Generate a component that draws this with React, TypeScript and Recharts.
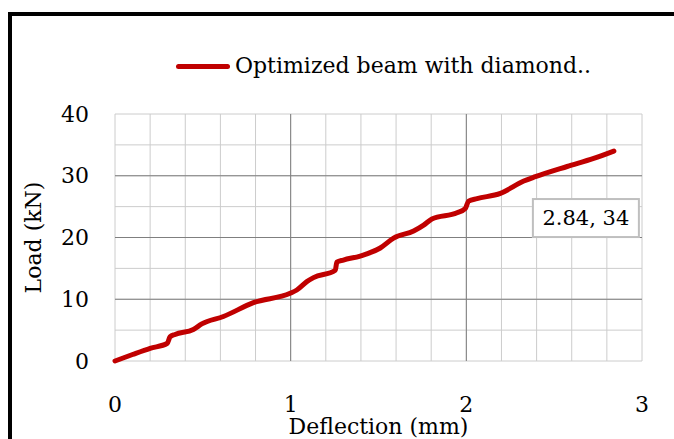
import {
  LineChart,
  Line,
  XAxis,
  YAxis,
  CartesianGrid,
  ReferenceLine,
  Legend,
  Label,
  LabelList,
} from "recharts";

// values
const deflection = [
  0, 0.1, 0.2, 0.298, 0.313, 0.342, 0.446, 0.494, 0.617, 0.788, 0.997, 1.035,
  1.092, 1.13, 1.254, 1.263, 1.3, 1.396, 1.51, 1.586, 1.7, 1.757, 1.804, 1.947,
  1.994, 2.013, 2.061, 2.194, 2.327, 2.393, 2.574, 2.725, 2.84,
];
const load = [
  0, 1.05, 2.05, 2.87, 3.9, 4.3, 5.1, 6.0, 7.2, 9.45, 10.96, 11.5, 12.85, 13.5,
  14.7, 16.0, 16.35, 17.0, 18.3, 19.9, 21.05, 22.0, 23.0, 24.0, 24.7, 25.9,
  26.3, 27.15, 29.15, 29.85, 31.5, 32.8, 34,
];
const xTicks = [0, 0.2, 0.4, 0.6, 0.8, 1, 1.2, 1.4, 1.6, 1.8, 2, 2.2, 2.4, 2.6, 2.8, 3];
const yTicks = [0, 5, 10, 15, 20, 25, 30, 35, 40];
const xMajor = [1, 2];
const yMajor = [10, 20, 30];
const seriesName = "Optimized beam with diamond..";

const data = deflection.map((d, i) => ({ deflection: d, load: load[i] }));

const FONT = "'DejaVu Serif', serif";
const RED = "#C00000";

const XTick = ({ x, y, payload }: any) =>
  Number.isInteger(payload.value) ? (
    <text x={x} y={y + 43} textAnchor="middle" dominantBaseline="central" fontFamily={FONT} fontSize={22} fill="#000">
      {payload.value}
    </text>
  ) : null;

const YTick = ({ x, y, payload }: any) =>
  payload.value % 10 === 0 ? (
    <text x={x - 26} y={y} textAnchor="end" dominantBaseline="central" fontFamily={FONT} fontSize={22} fill="#000">
      {payload.value}
    </text>
  ) : null;

const XTitle = ({ viewBox }: any) => (
  <text x={viewBox.x + viewBox.width / 2} y={viewBox.y + 65} textAnchor="middle" dominantBaseline="central" fontFamily={FONT} fontSize={22} fill="#000">
    Deflection (mm)
  </text>
);

const YTitle = ({ viewBox }: any) => {
  const cx = viewBox.x + 33;
  const cy = viewBox.y + viewBox.height / 2;
  return (
    <text x={cx} y={cy} transform={`rotate(-90 ${cx} ${cy})`} textAnchor="middle" dominantBaseline="central" fontFamily={FONT} fontSize={22} fill="#000">
      Load (kN)
    </text>
  );
};

// data label on the last point only
const EndLabel = ({ x, y, index }: any) => {
  if (index !== data.length - 1) return null;
  const d = data[index];
  return (
    <g>
      <rect x={x - 81} y={y + 48} width={106} height={38} fill="#fff" stroke="#bfbfbf" strokeWidth={2} />
      <text x={x - 28} y={y + 67} textAnchor="middle" dominantBaseline="central" fontFamily={FONT} fontSize={21} fill="#000">
        {`${d.deflection}, ${d.load}`}
      </text>
    </g>
  );
};

const LegendContent = () => (
  <div style={{ display: "flex", alignItems: "center", fontFamily: FONT, fontSize: 22, lineHeight: "26px", color: "#000", whiteSpace: "nowrap" }}>
    <span style={{ display: "inline-block", width: 54, height: 5, borderRadius: 3, background: RED, marginRight: 5 }} />
    <span>{seriesName}</span>
  </div>
);

export default function App() {
  return (
    <div style={{ position: "relative", width: 674, height: 439, overflow: "hidden", background: "#fff" }}>
      <style>{"body{margin:0;overflow:hidden}"}</style>
      {/* outer frame, cut off on the right and bottom like the source image */}
      <div style={{ position: "absolute", left: 8, top: 12, width: 720, height: 480, borderLeft: "4px solid #000", borderTop: "4px solid #000" }} />
      <div style={{ position: "absolute", left: 0, top: 0 }}>
        <LineChart width={674} height={439} data={data} margin={{ top: 114, right: 32, bottom: 0, left: 0 }}>
          <CartesianGrid stroke="#cccccc" strokeWidth={1} />
          {xMajor.map((v) => (
            <ReferenceLine key={`x${v}`} x={v} stroke="#7f7f7f" strokeWidth={1} />
          ))}
          {yMajor.map((v) => (
            <ReferenceLine key={`y${v}`} y={v} stroke="#7f7f7f" strokeWidth={1} />
          ))}
          <XAxis
            dataKey="deflection"
            type="number"
            domain={[0, 3]}
            ticks={xTicks}
            interval={0}
            height={78}
            axisLine={false}
            tickLine={false}
            tickSize={0}
            tickMargin={0}
            tick={<XTick />}
          >
            <Label content={<XTitle />} />
          </XAxis>
          <YAxis
            type="number"
            domain={[0, 40]}
            ticks={yTicks}
            interval={0}
            width={115}
            axisLine={false}
            tickLine={false}
            tickSize={0}
            tickMargin={0}
            tick={<YTick />}
          >
            <Label content={<YTitle />} />
          </YAxis>
          <Legend
            layout="vertical"
            align="center"
            verticalAlign="middle"
            content={<LegendContent />}
            wrapperStyle={{ left: 176, top: 53, width: 440 }}
          />
          <Line
            type="monotone"
            dataKey="load"
            name={seriesName}
            stroke={RED}
            strokeWidth={5}
            strokeLinecap="round"
            strokeLinejoin="round"
            dot={false}
            activeDot={false}
            isAnimationActive={false}
          >
            <LabelList dataKey="load" content={<EndLabel />} />
          </Line>
        </LineChart>
      </div>
    </div>
  );
}
